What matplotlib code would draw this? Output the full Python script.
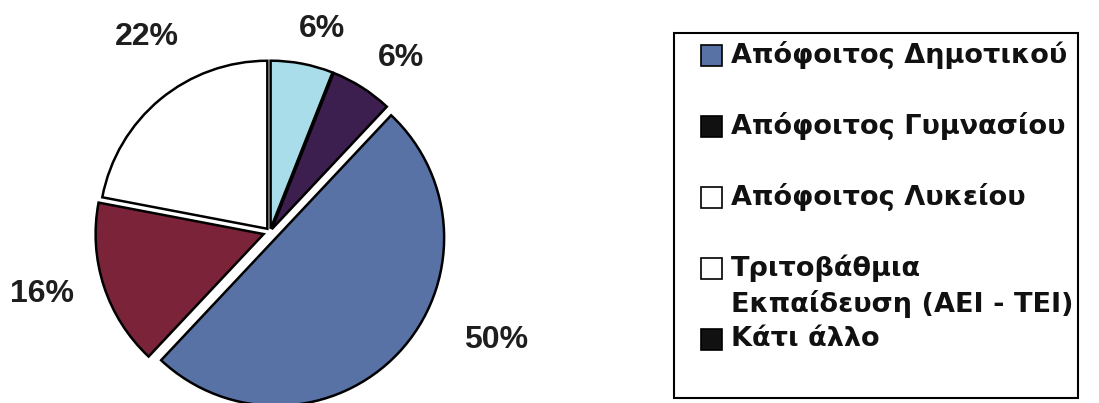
import matplotlib
matplotlib.use("Agg")
import matplotlib.pyplot as plt
from matplotlib.patches import Rectangle

plt.rcParams['font.family'] = ['Liberation Sans', 'DejaVu Sans']

# Pie slices, clockwise from 12 o'clock
slice_values = [6, 6, 50, 16, 22]
slice_colors = ['#a9dde9', '#3c1f4e', '#5872a6', '#7b2339', '#ffffff']
slice_explode = [0.02, 0.02, 0.05, 0.04, 0.025]

# Legend entries as printed
legend_labels = ['Απόφοιτος Δημοτικού', 'Απόφοιτος Γυμνασίου', 'Απόφοιτος Λυκείου',
                 'Τριτοβάθμια\nΕκπαίδευση (ΑΕΙ - ΤΕΙ)', 'Κάτι άλλο']
legend_colors = ['#5872a6', '#111111', '#ffffff', '#ffffff', '#111111']

W, H = 1099, 403
fig = plt.figure(figsize=(W / 100, H / 100), dpi=100)

# Pie axes: centre at (270, 232) px from top-left, radius 168 px
R = 168.0
cx, cy = 270.0, H - 232.0
ax_w = 600.0
ax = fig.add_axes([0, 0, ax_w / W, 1])

labels = [f'{v}%' for v in slice_values]
wedges, texts = ax.pie(slice_values, colors=slice_colors, explode=slice_explode,
                       startangle=90, counterclock=False, labels=labels,
                       labeldistance=1.25,
                       wedgeprops=dict(edgecolor='black', linewidth=1.8),
                       textprops=dict(fontsize=23, fontweight='bold', color='#1e1e1e'))
ax.set_xlim(-cx / R, (ax_w - cx) / R)
ax.set_ylim(-cy / R, (H - cy) / R)
ax.set_aspect('equal', adjustable='datalim')
ax.axis('off')

# label placement around the rim, given in pixels from the pie centre
label_px = [(52, 203), (131, 174), (226, -108), (-228, -62), (-123, 195)]
for t, (dx, dy) in zip(texts, label_px):
    t.set_position((dx / R, dy / R))
    t.set_ha('center')
    t.set_va('center')

# Legend panel drawn in figure pixels
fx = lambda px: px / W
fy = lambda py: 1 - py / H
fig.patches.append(Rectangle((fx(674), fy(398)), (1078 - 674) / W, (398 - 33) / H,
                             transform=fig.transFigure, fill=False,
                             edgecolor='black', linewidth=1.5))
row0, step = 55, 71
for i, (lab, col) in enumerate(zip(legend_labels, legend_colors)):
    y = row0 + i * step
    fig.patches.append(Rectangle((fx(701), fy(y + 11)), 21 / W, 21 / H,
                                 transform=fig.transFigure, facecolor=col,
                                 edgecolor='black', linewidth=1.2))
    two = '\n' in lab
    fig.text(fx(731), fy(y - 14) if two else fy(y), lab, fontsize=19.5, fontweight='bold',
             family='DejaVu Sans',
             ha='left', va='top' if two else 'center',
             color='#111111', linespacing=1.38)

fig.savefig('out.png', dpi=100, facecolor='white')
